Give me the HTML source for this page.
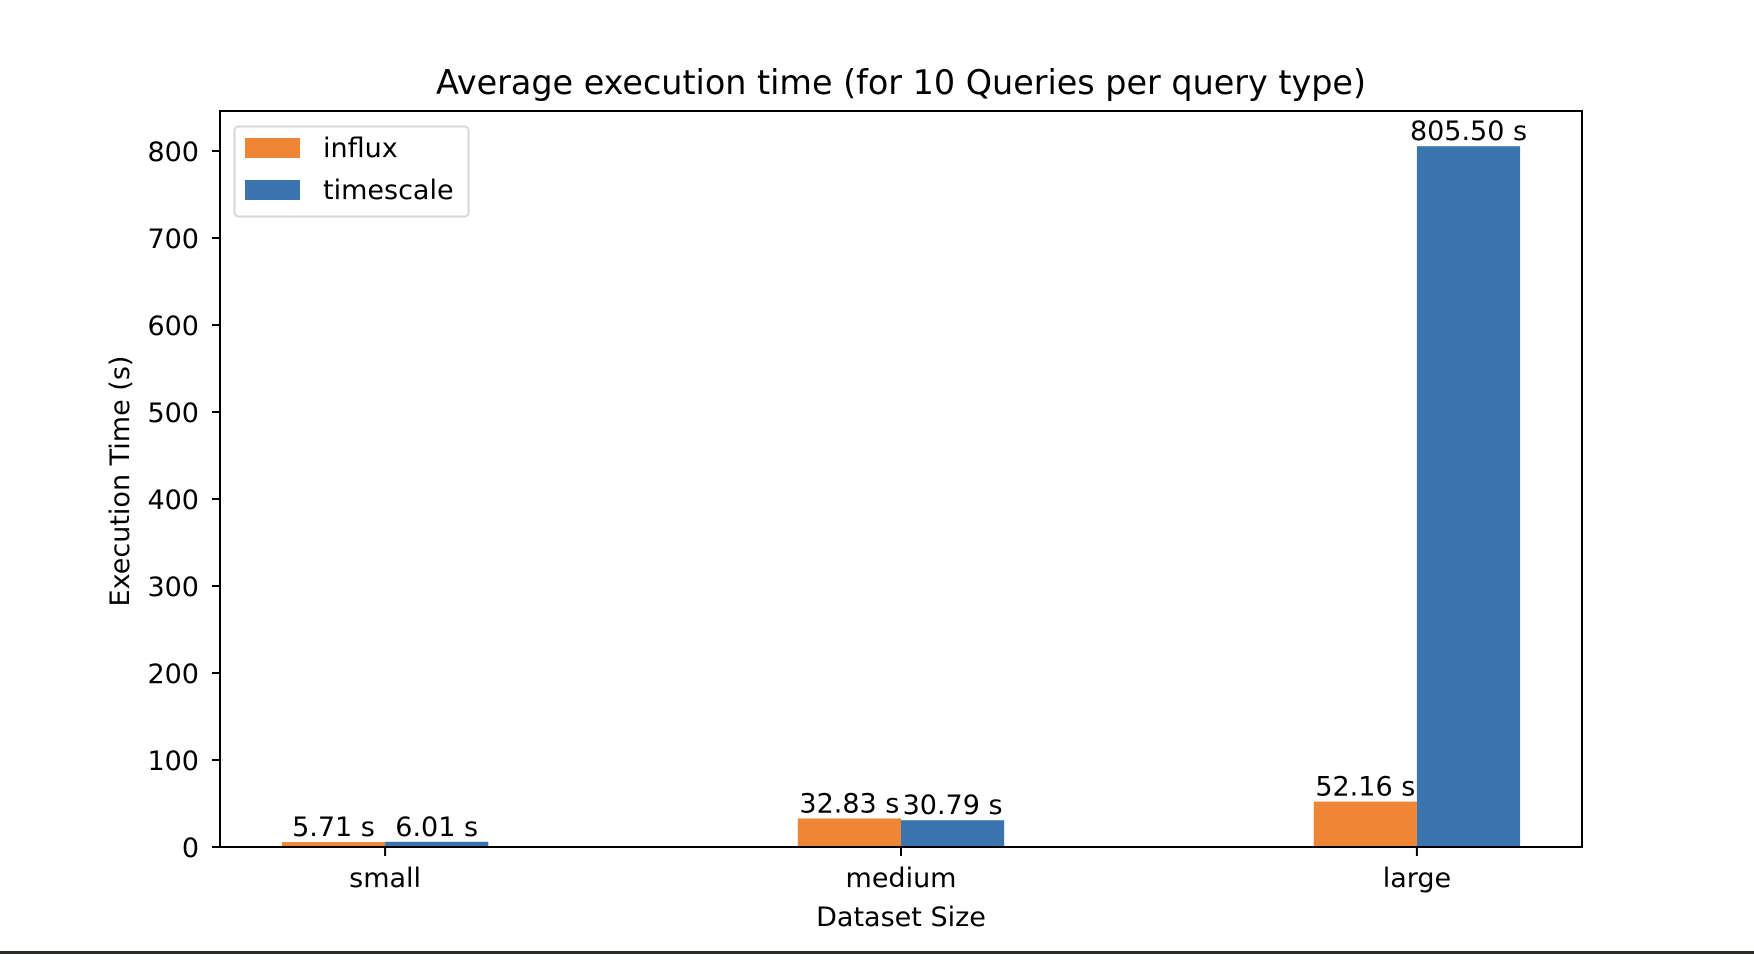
<!DOCTYPE html>
<html><head><meta charset="utf-8"><style>
html,body{margin:0;padding:0;background:#fff;}
svg{display:block;font-family:"DejaVu Sans","Liberation Sans",sans-serif;}
</style></head><body>
<svg id="chart" width="1754" height="954" viewBox="0 0 1754 954" xmlns="http://www.w3.org/2000/svg">
<rect x="0" y="0" width="1754" height="954" fill="#fff"/>
<text x="901" y="94" font-size="33.4" text-anchor="middle" fill="#000">Average execution time (for 10 Queries per query type)</text>
<g id="bars"></g>
<g id="yaxis"></g>
<g id="xaxis"></g>
<rect x="220" y="111" width="1362" height="736" fill="none" stroke="#000" stroke-width="2"/>
<text transform="translate(129,481) rotate(-90)" font-size="27" text-anchor="middle" fill="#000">Execution Time (s)</text>
<text x="901" y="926" font-size="27" text-anchor="middle" fill="#000">Dataset Size</text>
<g>
<rect x="234.5" y="126.5" width="234" height="90" rx="4" fill="#fff" fill-opacity="0.8" stroke="#d6d6d6" stroke-width="2"/>
<rect x="245" y="138" width="55" height="20" fill="#ef8636"/>
<text x="323" y="157" font-size="27" fill="#000">influx</text>
<rect x="245" y="180" width="55" height="20" fill="#3b75af"/>
<text x="323" y="199" font-size="27" fill="#000">timescale</text>
</g>
<rect x="0" y="951" width="1754" height="3" fill="#2e2a24"/>
</svg>
<script>
const categories = ["small", "medium", "large"];
const influxValues = [5.71, 32.83, 52.16];
const timescaleValues = [6.01, 30.79, 805.50];
const yTicks = [0, 100, 200, 300, 400, 500, 600, 700, 800];

const NS = "http://www.w3.org/2000/svg";
const plotLeft = 220, plotRight = 1582, plotTop = 111, plotBottom = 847;
const y0 = 847, yPer = 696 / 800;
function yScale(v){ return y0 - v * yPer; }
const xMin = -0.32, xMax = 2.32;
function xScale(i){ return plotLeft + (i - xMin) / (xMax - xMin) * (plotRight - plotLeft); }
const barW = 0.2;

const bars = document.getElementById('bars');
function addBar(i, off, v, color, series){
  const xl = xScale(i + off - barW/2), xr = xScale(i + off + barW/2);
  const r = document.createElementNS(NS, 'rect');
  r.setAttribute('x', xl); r.setAttribute('y', yScale(v));
  r.setAttribute('width', xr - xl); r.setAttribute('height', y0 - yScale(v));
  r.setAttribute('fill', color);
  
  
  bars.appendChild(r);
  const t = document.createElementNS(NS, 'text');
  t.setAttribute('x', (xl + xr) / 2); t.setAttribute('y', yScale(v) - 6);
  t.setAttribute('font-size', '27'); t.setAttribute('text-anchor', 'middle');
  t.textContent = v.toFixed(2) + ' s';
  
  
  bars.appendChild(t);
}
categories.forEach((c, i) => {
  addBar(i, -0.1, influxValues[i], '#ef8636', 'influx');
  addBar(i, 0.1, timescaleValues[i], '#3b75af', 'timescale');
});

const ya = document.getElementById('yaxis');
yTicks.forEach(v => {
  const y = yScale(v);
  const l = document.createElementNS(NS, 'line');
  l.setAttribute('x1', plotLeft - 8); l.setAttribute('x2', plotLeft);
  l.setAttribute('y1', y); l.setAttribute('y2', y);
  l.setAttribute('stroke', '#000'); l.setAttribute('stroke-width', '2');
  
  
  ya.appendChild(l);
  const t = document.createElementNS(NS, 'text');
  t.setAttribute('x', 199); t.setAttribute('y', y + 10);
  t.setAttribute('font-size', '27'); t.setAttribute('text-anchor', 'end');
  t.textContent = v;
  
  
  ya.appendChild(t);
});

const xa = document.getElementById('xaxis');
categories.forEach((c, i) => {
  const x = xScale(i);
  const l = document.createElementNS(NS, 'line');
  l.setAttribute('x1', x); l.setAttribute('x2', x);
  l.setAttribute('y1', plotBottom); l.setAttribute('y2', plotBottom + 9);
  l.setAttribute('stroke', '#000'); l.setAttribute('stroke-width', '2');
  
  
  xa.appendChild(l);
  const t = document.createElementNS(NS, 'text');
  t.setAttribute('x', x); t.setAttribute('y', 887);
  t.setAttribute('font-size', '27'); t.setAttribute('text-anchor', 'middle');
  t.textContent = c;
  
  
  xa.appendChild(t);
});
</script>
</body></html>
